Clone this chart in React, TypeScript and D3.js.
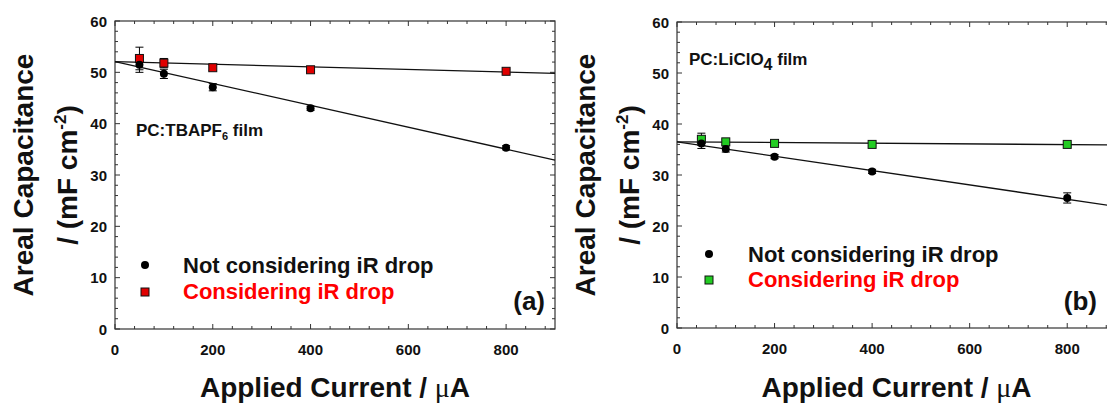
import React from "react";
import * as d3 from "d3";

const currents = [50, 100, 200, 400, 800];
const xTicks = [0, 200, 400, 600, 800];
const yTicks = [0, 10, 20, 30, 40, 50, 60];

const aNot = [51.5, 49.7, 47.1, 43.0, 35.3];
const aNotErr = [1.5, 0.9, 0.7, 0.4, 0.4];
const aWith = [52.7, 51.8, 50.9, 50.5, 50.2];
const aWithErr = [2.2, 0.9, 0.5, 0.4, 0.4];
const aFitNot = [52.1, -0.02133];
const aFitWith = [52.1, -0.00256];

const bNot = [36.2, 35.1, 33.6, 30.7, 25.5];
const bNotErr = [1.0, 0.6, 0.4, 0.4, 1.0];
const bWith = [37.0, 36.5, 36.2, 36.0, 36.0];
const bWithErr = [1.2, 0.5, 0.3, 0.3, 0.3];
const bFitNot = [36.5, -0.01407];
const bFitWith = [36.5, -0.00068];

const legendLabels = ["Not considering iR drop", "Considering iR drop"];

const FONT = "'Liberation Sans', Arial, Helvetica, sans-serif";

type PanelProps = {
  x0: number; x1: number; yTop: number; yBot: number;
  notVals: number[]; notErr: number[]; withVals: number[]; withErr: number[];
  fitNot: number[]; fitWith: number[];
  fill: string; film: React.ReactNode; filmX: number; filmY: number;
  legX: number; legY: number; legGap: number; legTextX: number;
  label: string; labelX: number;
};

function Panel(p: PanelProps) {
  const x = d3.scaleLinear().domain([0, 900]).range([p.x0, p.x1]);
  const y = d3.scaleLinear().domain([0, 60]).range([p.yBot, p.yTop]);
  const minorX = d3.range(0, 901, 40);
  const minorY = d3.range(0, 61, 2);
  const fitPath = (f: number[]) =>
    d3.line<number>().x((d) => x(d)).y((d) => y(f[0] + f[1] * d))([0, 900]) || "";
  const cy = (p.yTop + p.yBot) / 2;
  const cx = (p.x0 + p.x1) / 2;
  const errBars = (vals: number[], errs: number[]) =>
    currents.map((c, i) => (
      <g key={i} stroke="#000" strokeWidth={1}>
        <line x1={x(c)} x2={x(c)} y1={y(vals[i] - errs[i])} y2={y(vals[i] + errs[i])} />
        <line x1={x(c) - 4} x2={x(c) + 4} y1={y(vals[i] - errs[i])} y2={y(vals[i] - errs[i])} />
        <line x1={x(c) - 4} x2={x(c) + 4} y1={y(vals[i] + errs[i])} y2={y(vals[i] + errs[i])} />
      </g>
    ));
  return (
    <g fontFamily={FONT}>
      <rect x={p.x0} y={p.yTop} width={p.x1 - p.x0} height={p.yBot - p.yTop} fill="none" stroke="#333" strokeWidth={1.2} />
      {minorX.map((t) => {
        const major = t % 200 === 0;
        const len = major ? 5 : 3;
        return (
          <g key={"x" + t} stroke="#333" strokeWidth={1}>
            <line x1={x(t)} x2={x(t)} y1={p.yBot} y2={p.yBot - len} />
            <line x1={x(t)} x2={x(t)} y1={p.yTop} y2={p.yTop + len} />
          </g>
        );
      })}
      {minorY.map((t) => {
        const major = t % 10 === 0;
        const len = major ? 5 : 3;
        return (
          <g key={"y" + t} stroke="#333" strokeWidth={1}>
            <line x1={p.x0} x2={p.x0 + len} y1={y(t)} y2={y(t)} />
            <line x1={p.x1} x2={p.x1 - len} y1={y(t)} y2={y(t)} />
          </g>
        );
      })}
      {xTicks.map((t) => (
        <text key={"xl" + t} x={x(t)} y={p.yBot + 26} textAnchor="middle" fontSize={15} fontWeight="bold" fill="#111">{t}</text>
      ))}
      {yTicks.map((t) => (
        <text key={"yl" + t} x={p.x0 - 8} y={y(t) + 5.5} textAnchor="end" fontSize={15} fontWeight="bold" fill="#111">{t}</text>
      ))}
      <text x={cx} y={397} textAnchor="middle" fontSize={28} fontWeight="bold" fill="#111">
        Applied Current / <tspan fontFamily="'Liberation Serif', 'Times New Roman', serif" fontWeight="normal">μ</tspan>A
      </text>
      <text transform={`translate(${p.x0 - 82},${cy}) rotate(-90)`} textAnchor="middle" fontSize={28} fontWeight="bold" fill="#111">
        Areal Capacitance
      </text>
      <text transform={`translate(${p.x0 - 38},${cy}) rotate(-90)`} textAnchor="middle" fontSize={28} fontWeight="bold" fill="#111">
        / (mF cm<tspan fontSize={17} dy={-11}>-2</tspan><tspan dy={11}>)</tspan>
      </text>
      <path d={fitPath(p.fitNot)} stroke="#111" strokeWidth={1.3} fill="none" />
      <path d={fitPath(p.fitWith)} stroke="#111" strokeWidth={1.3} fill="none" />
      {errBars(p.withVals, p.withErr)}
      {errBars(p.notVals, p.notErr)}
      {currents.map((c, i) => (
        <rect key={"s" + i} x={x(c) - 4} y={y(p.withVals[i]) - 4} width={8} height={8} fill={p.fill} stroke="#111" strokeWidth={1} />
      ))}
      {currents.map((c, i) => (
        <circle key={"c" + i} cx={x(c)} cy={y(p.notVals[i])} r={4} fill="#000" />
      ))}
      <text x={p.filmX} y={p.filmY} fontSize={17} fontWeight="bold" fill="#111">{p.film}</text>
      <circle cx={p.legX} cy={p.legY - 8} r={4} fill="#000" />
      <text x={p.legTextX} y={p.legY} fontSize={22} fontWeight="bold" fill="#111">{legendLabels[0]}</text>
      <rect x={p.legX - 4} y={p.legY + p.legGap - 11} width={8} height={8} fill={p.fill} stroke="#111" strokeWidth={1} />
      <text x={p.legTextX} y={p.legY + p.legGap} fontSize={22} fontWeight="bold" fill="#ff0000">{legendLabels[1]}</text>
      <text x={p.labelX} y={310} textAnchor="end" fontSize={26} fontWeight="bold" fill="#111">{p.label}</text>
    </g>
  );
}

export default function App() {
  return (
    <svg width={1107} height={405} style={{ position: "absolute", left: 0, top: 0, background: "#fff" }}>
      <rect x={0} y={0} width={1107} height={405} fill="#fff" />
      <Panel
        x0={115} x1={555} yTop={21} yBot={329}
        notVals={aNot} notErr={aNotErr} withVals={aWith} withErr={aWithErr}
        fitNot={aFitNot} fitWith={aFitWith}
        fill="#e00000"
        film={<>PC:TBAPF<tspan fontSize={11} dy={4}>6</tspan><tspan dy={-4}> film</tspan></>}
        filmX={136} filmY={136}
        legX={145} legY={273} legGap={26} legTextX={183}
        label="(a)" labelX={545}
      />
      <Panel
        x0={677} x1={1116} yTop={22} yBot={328}
        notVals={bNot} notErr={bNotErr} withVals={bWith} withErr={bWithErr}
        fitNot={bFitNot} fitWith={bFitWith}
        fill="#22cc22"
        film={<>PC:LiClO<tspan fontSize={16} dy={5}>4</tspan><tspan dy={-5}> film</tspan></>}
        filmX={689} filmY={65}
        legX={709} legY={262} legGap={25} legTextX={748}
        label="(b)" labelX={1097}
      />
    </svg>
  );
}
